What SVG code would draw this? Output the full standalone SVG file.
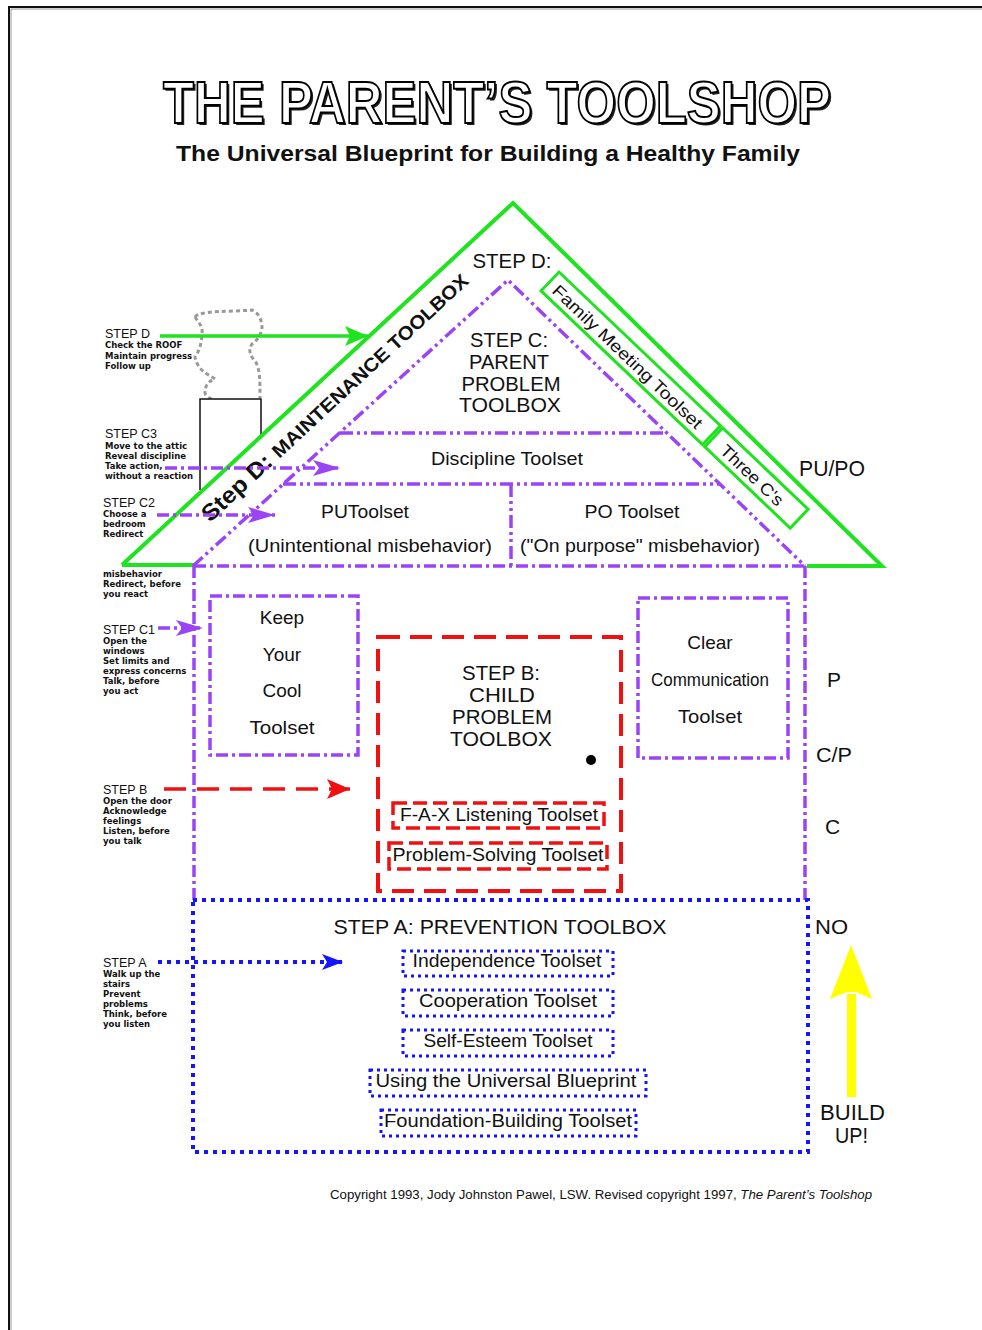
<svg xmlns="http://www.w3.org/2000/svg" width="982" height="1330" viewBox="0 0 982 1330">
<style>
.t{font-family:"Liberation Sans",Arial,sans-serif;fill:#111}
.m{text-anchor:middle}
.s{font-family:"DejaVu Sans",sans-serif;font-size:8.5px;font-weight:bold;fill:#111}
.st{font-family:"Liberation Sans",Arial,sans-serif;font-size:12.5px;fill:#111}
.green{stroke:#1ee31e;stroke-width:4;fill:none}
.pur{stroke:#9a44f6;stroke-width:3.5;fill:none;stroke-dasharray:13 4 3 4 3 4}
.pur2{stroke:#9a44f6;stroke-width:3.5;fill:none;stroke-dasharray:12 4 3 4}
.red{stroke:#f01010;stroke-width:4;fill:none;stroke-dasharray:22 10}
.blue{stroke:#1414ff;stroke-width:4;fill:none;stroke-dasharray:4 5}
.blue2{stroke:#1414ff;stroke-width:3;fill:none;stroke-dasharray:3 4}
.red2{stroke:#f01010;stroke-width:3.5;fill:none;stroke-dasharray:14 6}
</style>
<defs>
<marker id="hg" markerUnits="userSpaceOnUse" markerWidth="24" markerHeight="22" refX="23" refY="11" orient="auto"><path d="M0,1 L23,11 L0,21 L5,11 Z" fill="#1ee31e"/></marker>
<marker id="hp" markerUnits="userSpaceOnUse" markerWidth="28" markerHeight="18" refX="27" refY="9" orient="auto"><path d="M0,1 L27,9 L0,17 L6,9 Z" fill="#9a44f6"/></marker>
<marker id="hr" markerUnits="userSpaceOnUse" markerWidth="24" markerHeight="22" refX="23" refY="11" orient="auto"><path d="M0,1 L23,11 L0,21 L5,11 Z" fill="#f01010"/></marker>
<marker id="hb" markerUnits="userSpaceOnUse" markerWidth="22" markerHeight="18" refX="21" refY="9" orient="auto"><path d="M0,1 L21,9 L0,17 L5,9 Z" fill="#1414ff"/></marker>
</defs>
<rect width="982" height="1330" fill="#fff"/>
<path d="M9,1330 V7 H982" stroke="#111" stroke-width="2" fill="none"/>
<path d="M11,1330 V9 H982" stroke="#999" stroke-width="1" fill="none"/>

<g id="title">
<text class="t" x="165" y="125" font-size="60" font-weight="bold" textLength="668" lengthAdjust="spacingAndGlyphs" style="fill:#222">THE PARENT’S TOOLSHOP</text>
<text class="t" x="163" y="123" font-size="60" font-weight="bold" textLength="668" lengthAdjust="spacingAndGlyphs" style="fill:#fff" stroke="#000" stroke-width="2">THE PARENT’S TOOLSHOP</text>
<text class="t" x="176" y="161" font-size="22" font-weight="bold" textLength="624" lengthAdjust="spacingAndGlyphs">The Universal Blueprint for Building a Healthy Family</text>
</g>

<g id="chimney">
<path d="M195,317 C200,310 230,312 252,310 C258,312 262,320 262,327 C262,333 258,340 252,344 C248,350 250,356 255,361 C260,368 260,380 260,398 M195,317 C198,322 203,326 202,333 C202,340 200,350 195,357 C196,363 200,370 207,374 C210,376 214,378 215,379 C208,381 205,386 205,393 C206,396 209,398 212,399" stroke="#999" stroke-width="3" stroke-dasharray="4 3" fill="none"/>
<path d="M200,490 V399 H261 V437" stroke="#111" stroke-width="1.5" fill="#fff"/>
</g>

<g id="roof">
<path class="green" d="M122,565 L513,203 L882,566 L807,566 M122,565 L195,565"/>
<text class="t" transform="translate(210,523) rotate(-42.8)" font-weight="bold" textLength="354" lengthAdjust="spacingAndGlyphs"><tspan font-size="23">Step D: </tspan><tspan font-size="19">MAINTENANCE TOOLBOX</tspan></text>
<text class="t m" x="512" y="268" font-size="21" textLength="79" lengthAdjust="spacingAndGlyphs">STEP D:</text>
</g>

<g id="family-meeting" transform="translate(559,272) rotate(43.6)">
<rect x="0" y="0" width="223" height="26" stroke="#1ee31e" stroke-width="3" fill="none"/>
<text class="t" x="8" y="20" font-size="17" textLength="200" lengthAdjust="spacingAndGlyphs">Family Meeting Toolset</text>
</g>
<g id="three-cs" transform="translate(559,272) rotate(43.6)">
<rect x="226" y="0" width="118" height="26" stroke="#1ee31e" stroke-width="3" fill="none"/>
<text class="t" x="240" y="20" font-size="17" textLength="80" lengthAdjust="spacingAndGlyphs">Three C's</text>
</g>

<g id="parent-problem">
<path class="pur" d="M193,566 L508,280 L805,566"/>
<text class="t m" x="509" y="347" font-size="21" textLength="78" lengthAdjust="spacingAndGlyphs">STEP C:</text>
<text class="t m" x="509" y="369" font-size="21" textLength="80" lengthAdjust="spacingAndGlyphs">PARENT</text>
<text class="t m" x="511" y="391" font-size="21" textLength="99" lengthAdjust="spacingAndGlyphs">PROBLEM</text>
<text class="t m" x="510" y="412" font-size="21" textLength="102" lengthAdjust="spacingAndGlyphs">TOOLBOX</text>
</g>

<g id="discipline">
<path class="pur" d="M340,433 H665"/>
<text class="t m" x="507" y="465" font-size="19" textLength="152" lengthAdjust="spacingAndGlyphs">Discipline Toolset</text>
</g>

<g id="pu-toolset">
<path class="pur" d="M283,484 H720 M511,484 V566"/>
<text class="t m" x="365" y="518" font-size="19" textLength="88" lengthAdjust="spacingAndGlyphs">PUToolset</text>
<text class="t m" x="370" y="552" font-size="19" textLength="244" lengthAdjust="spacingAndGlyphs">(Unintentional misbehavior)</text>
</g>
<g id="po-toolset">
<text class="t m" x="632" y="518" font-size="19" textLength="95" lengthAdjust="spacingAndGlyphs">PO Toolset</text>
<text class="t m" x="640" y="552" font-size="19" textLength="240" lengthAdjust="spacingAndGlyphs">("On purpose" misbehavior)</text>
</g>

<g id="house">
<path class="pur2" d="M194,566 H805 M194,566 V900 M805,566 V900"/>
</g>

<g id="keep-your-cool">
<rect class="pur2" x="210" y="596" width="148" height="159"/>
<text class="t m" x="282" y="624" font-size="19">Keep</text>
<text class="t m" x="282" y="661" font-size="19">Your</text>
<text class="t m" x="282" y="697" font-size="19">Cool</text>
<text class="t m" x="282" y="734" font-size="19" textLength="65" lengthAdjust="spacingAndGlyphs">Toolset</text>
</g>

<g id="clear-communication">
<rect class="pur2" x="638" y="598" width="150" height="160"/>
<text class="t m" x="710" y="649" font-size="19">Clear</text>
<text class="t m" x="710" y="686" font-size="19" textLength="118" lengthAdjust="spacingAndGlyphs">Communication</text>
<text class="t m" x="710" y="723" font-size="19" textLength="64" lengthAdjust="spacingAndGlyphs">Toolset</text>
</g>

<g id="child-problem">
<rect class="red" x="378" y="637" width="243" height="254"/>
<text class="t m" x="501" y="680" font-size="21" textLength="78" lengthAdjust="spacingAndGlyphs">STEP B:</text>
<text class="t m" x="502" y="702" font-size="21" textLength="66" lengthAdjust="spacingAndGlyphs">CHILD</text>
<text class="t m" x="502" y="724" font-size="21" textLength="100" lengthAdjust="spacingAndGlyphs">PROBLEM</text>
<text class="t m" x="501" y="746" font-size="21" textLength="102" lengthAdjust="spacingAndGlyphs">TOOLBOX</text>
<circle cx="591" cy="760" r="5" fill="#000"/>
</g>
<g id="fax">
<rect class="red2" x="393" y="803" width="211" height="25"/>
<text class="t m" x="499" y="821" font-size="18" textLength="198" lengthAdjust="spacingAndGlyphs">F-A-X Listening Toolset</text>
</g>
<g id="problem-solving">
<rect class="red2" x="389" y="843" width="218" height="26"/>
<text class="t m" x="498" y="861" font-size="18" textLength="211" lengthAdjust="spacingAndGlyphs">Problem-Solving Toolset</text>
</g>

<g id="prevention">
<rect class="blue" x="193" y="900" width="615" height="252"/>
<text class="t m" x="500" y="934" font-size="21" textLength="333" lengthAdjust="spacingAndGlyphs">STEP A: PREVENTION TOOLBOX</text>
</g>
<g id="independence">
<rect class="blue2" x="403" y="951" width="210" height="25"/>
<text class="t m" x="507" y="967" font-size="18" textLength="189" lengthAdjust="spacingAndGlyphs">Independence Toolset</text>
</g>
<g id="cooperation">
<rect class="blue2" x="403" y="990" width="210" height="26"/>
<text class="t m" x="508" y="1007" font-size="18" textLength="178" lengthAdjust="spacingAndGlyphs">Cooperation Toolset</text>
</g>
<g id="self-esteem">
<rect class="blue2" x="403" y="1030" width="210" height="26"/>
<text class="t m" x="508" y="1047" font-size="18" textLength="169" lengthAdjust="spacingAndGlyphs">Self-Esteem Toolset</text>
</g>
<g id="universal-blueprint">
<rect class="blue2" x="370" y="1070" width="276" height="26"/>
<text class="t m" x="506" y="1087" font-size="18" textLength="261" lengthAdjust="spacingAndGlyphs">Using the Universal Blueprint</text>
</g>
<g id="foundation">
<rect class="blue2" x="381" y="1110" width="255" height="26"/>
<text class="t m" x="508" y="1127" font-size="18" textLength="248" lengthAdjust="spacingAndGlyphs">Foundation-Building Toolset</text>
</g>

<g id="side-labels">
<text class="t" x="799" y="476" font-size="22" textLength="66" lengthAdjust="spacingAndGlyphs">PU/PO</text>
<text class="t" x="827" y="687" font-size="21">P</text>
<text class="t" x="816" y="762" font-size="21" textLength="36" lengthAdjust="spacingAndGlyphs">C/P</text>
<text class="t" x="825" y="834" font-size="21">C</text>
<text class="t" x="815" y="934" font-size="21" textLength="33" lengthAdjust="spacingAndGlyphs">NO</text>
<text class="t" x="820" y="1120" font-size="22" textLength="65" lengthAdjust="spacingAndGlyphs">BUILD</text>
<text class="t" x="835" y="1143" font-size="22" textLength="33" lengthAdjust="spacingAndGlyphs">UP!</text>
</g>

<g id="step-d-label">
<text class="st" x="105" y="338">STEP D</text>
<text class="s" x="105" y="348">Check the ROOF</text>
<text class="s" x="105" y="359">Maintain progress</text>
<text class="s" x="105" y="369">Follow up</text>
</g>
<g id="step-c3-label">
<text class="st" x="105" y="438">STEP C3</text>
<text class="s" x="105" y="449">Move to the attic</text>
<text class="s" x="105" y="459">Reveal discipline</text>
<text class="s" x="105" y="469">Take action,</text>
<text class="s" x="105" y="479">without a reaction</text>
</g>
<g id="step-c2-label">
<text class="st" x="103" y="507">STEP C2</text>
<text class="s" x="103" y="517">Choose a</text>
<text class="s" x="103" y="527">bedroom</text>
<text class="s" x="103" y="537">Redirect</text>
<text class="s" x="103" y="577">misbehavior</text>
<text class="s" x="103" y="587">Redirect, before</text>
<text class="s" x="103" y="597">you react</text>
</g>
<g id="step-c1-label">
<text class="st" x="103" y="634">STEP C1</text>
<text class="s" x="103" y="644">Open the</text>
<text class="s" x="103" y="654">windows</text>
<text class="s" x="103" y="664">Set limits and</text>
<text class="s" x="103" y="674">express concerns</text>
<text class="s" x="103" y="684">Talk, before</text>
<text class="s" x="103" y="694">you act</text>
</g>
<g id="step-b-label">
<text class="st" x="103" y="794">STEP B</text>
<text class="s" x="103" y="804">Open the door</text>
<text class="s" x="103" y="814">Acknowledge</text>
<text class="s" x="103" y="824">feelings</text>
<text class="s" x="103" y="834">Listen, before</text>
<text class="s" x="103" y="844">you talk</text>
</g>
<g id="step-a-label">
<text class="st" x="103" y="967">STEP A</text>
<text class="s" x="103" y="977">Walk up the</text>
<text class="s" x="103" y="987">stairs</text>
<text class="s" x="103" y="997">Prevent</text>
<text class="s" x="103" y="1007">problems</text>
<text class="s" x="103" y="1017">Think, before</text>
<text class="s" x="103" y="1027">you listen</text>
</g>

<g id="connectors">
<path d="M160,336 H368" stroke="#1ee31e" stroke-width="3.5" fill="none" marker-end="url(#hg)"/>
<path d="M165,468 H340" class="pur2" stroke-width="3.5" marker-end="url(#hp)"/>
<path d="M157,515 H275" class="pur2" marker-end="url(#hp)"/>
<path d="M158,628 H203" class="pur2" marker-end="url(#hp)"/>
<path d="M164,789 H350" stroke="#f01010" stroke-width="3.5" stroke-dasharray="22 11" fill="none" marker-end="url(#hr)"/>
<path d="M158,962 H343" class="blue" stroke-width="3.5" marker-end="url(#hb)"/>
<g id="build-up-arrow">
<rect x="847" y="994" width="9" height="103" fill="#ffff00"/>
<path d="M851,945 L872,999 L856,992 L847,992 L830,999 Z" fill="#ffff00"/>
</g>
</g>

<g id="copyright">
<text class="t" x="330" y="1199" font-size="12" textLength="542" lengthAdjust="spacingAndGlyphs">Copyright 1993, Jody Johnston Pawel, LSW.  Revised copyright 1997, <tspan font-style="italic">The Parent’s Toolshop</tspan></text>
</g>
</svg>
